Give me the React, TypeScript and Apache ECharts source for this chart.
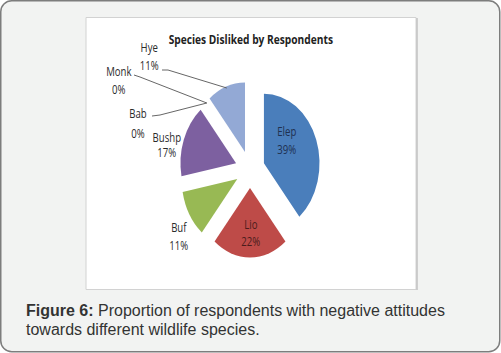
import React, { useEffect, useRef } from "react";
import * as echarts from "echarts";

const categories = ["Elep", "Lio", "Buf", "Bushp", "Bab", "Monk", "Hye"];
const values = [39, 22, 11, 17, 0, 0, 11];
const colors = ["#4a7ebb", "#be4b48", "#98b954", "#7d60a0", "#4bacc6", "#f79646", "#93a9d5"];
const titleText = "Species Disliked by Respondents";
const captionBold = "Figure 6:";
const captionLine1 = " Proportion of respondents with negative attitudes";
const captionLine2 = "towards different wildlife species.";

// label anchors (pie-local coordinates) and leader lines
const labelPos: [number, number][] = [
  [251, 123], [206, 216], [116, 219], [101, 128], [65, 106], [41, 63], [79, 39],
];
const labelLines: ([number, number][] | null)[] = [
  null, null, null, null,
  [[151, 86], [92.5, 98], [82.5, 99]],
  [[151, 86], [67.5, 60], [60, 58]],
  [[176, 71], [102.5, 53], [95, 53]],
];
const lineHeights = [18, 17, 18, 15, 20, 18, 18];
const labelColors = ["#1e3050", "#4a1c1c", "#2a2a2a", "#2a2a2a", "#2a2a2a", "#2a2a2a", "#2a2a2a"];
const SQUEEZE = 0.8;

export default function App() {
  const frameRef = useRef<HTMLDivElement>(null);
  const pieRef = useRef<HTMLDivElement>(null);

  useEffect(() => {
    const frame = echarts.init(frameRef.current!, null, { renderer: "svg" });
    frame.setOption({
      animation: false,
      graphic: [
        {
          type: "rect",
          shape: { x: 0.75, y: 0.75, width: 499, height: 351, r: 11 },
          style: { fill: "#f2f3f2", stroke: "#7d7d7d", lineWidth: 1.5 },
        },
        {
          type: "rect",
          shape: { x: 86, y: 17.5, width: 330, height: 272 },
          style: { fill: "#ffffff", stroke: "#d2d2d2", lineWidth: 1 },
        },
        {
          type: "line",
          shape: { x1: 417, y1: 18, x2: 417, y2: 290 },
          style: { stroke: "#c2c2c2", lineWidth: 1.5 },
        },
        {
          type: "text",
          x: 26,
          y: 302.5,
          style: {
            text: "{b|" + captionBold + "}" + captionLine1,
            font: "16px 'Liberation Sans', Arial, sans-serif",
            fill: "#333333",
            verticalAlign: "top",
            rich: { b: { fontWeight: "bold", fontSize: 16, fontFamily: "'Liberation Sans', Arial, sans-serif", fill: "#333333" } },
          },
        },
        {
          type: "text",
          x: 26,
          y: 321,
          style: {
            text: captionLine2,
            font: "16px 'Liberation Sans', Arial, sans-serif",
            fill: "#333333",
            verticalAlign: "top",
          },
        },
      ],
    });

    const total = values.reduce((a, b) => a + b, 0);
    const labelGraphics: any[] = [];
    categories.forEach((c, i) => {
      labelGraphics.push({
        type: "text",
        z: 100,
        x: labelPos[i][0],
        y: labelPos[i][1],
        style: {
          text: c + "\n" + Math.round((values[i] / total) * 100) + "%",
          font: "12px 'Open Sans', sans-serif",
          fill: labelColors[i],
          align: "center",
          verticalAlign: "middle",
          lineHeight: lineHeights[i],
        },
      });
      const pts = labelLines[i];
      if (pts) {
        labelGraphics.push({
          type: "polyline",
          z: 100,
          shape: { points: pts },
          style: { stroke: "#555555", lineWidth: 1, fill: "none" },
        });
      }
    });

    const pie = echarts.init(pieRef.current!, null, { renderer: "svg" });
    pie.setOption({
      animation: false,
      title: {
        text: titleText,
        left: 201,
        top: 11,
        textAlign: "center",
        textStyle: { fontFamily: "'Open Sans', sans-serif", fontWeight: "bold", fontSize: 12.75, color: "#222222" },
      },
      graphic: labelGraphics,
      series: [
        {
          type: "pie",
          z: 2,
          center: [205, 152.5],
          radius: [0, 69.5],
          startAngle: 90,
          clockwise: true,
          selectedMode: "multiple",
          selectedOffset: 18.5,
          avoidLabelOverlap: false,
          emphasis: { disabled: true },
          label: { show: false },
          labelLine: { show: false },
          data: categories.map((c, i) => ({
            name: c,
            value: values[i],
            selected: true,
            itemStyle: { color: colors[i] },
          })),
        },
      ],
    });

    return () => {
      frame.dispose();
      pie.dispose();
    };
  }, []);

  return (
    <div style={{ position: "absolute", left: 0, top: 0, width: 501, height: 353 }}>
      <div ref={frameRef} style={{ position: "absolute", left: 0, top: 0, width: 501, height: 353 }} />
      <div
        ref={pieRef}
        style={{
          position: "absolute",
          left: 86,
          top: 17,
          width: 412,
          height: 272,
          transform: `scaleX(${SQUEEZE})`,
          transformOrigin: "0 0",
        }}
      />
    </div>
  );
}
